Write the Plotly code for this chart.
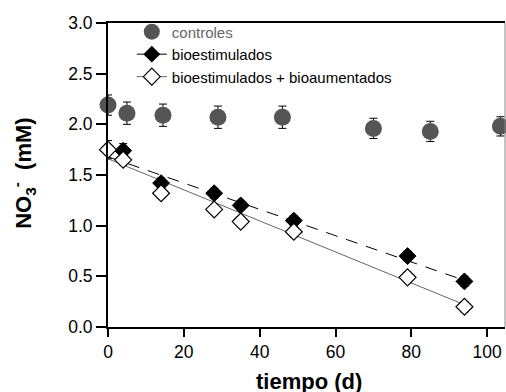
import plotly.graph_objects as go

# ---- data ----
ctrl_x = [0, 5, 14.5, 29, 46, 70, 85, 103.5]
ctrl_y = [2.19, 2.11, 2.09, 2.07, 2.07, 1.96, 1.93, 1.98]
ctrl_err = [0.10, 0.11, 0.11, 0.11, 0.11, 0.10, 0.10, 0.095]

bio_x = [4, 14, 28, 35, 49, 79, 94]
bio_y = [1.74, 1.42, 1.32, 1.20, 1.05, 0.70, 0.45]
bio_err = [0.07, 0.05, 0.05, 0.05, 0.05, 0.05, 0.05]

aug_x = [0, 4, 14, 28, 35, 49, 79, 94]
aug_y = [1.75, 1.65, 1.32, 1.16, 1.04, 0.94, 0.49, 0.20]
aug_err = [0.09, 0.05, 0.05, 0.05, 0.05, 0.05, 0.05, 0.05]

# fitted (regression) lines, end points
bio_fit_x = [0, 94]
bio_fit_y = [1.68, 0.46]
aug_fit_x = [0, 94]
aug_fit_y = [1.66, 0.22]

x_ticks = [0, 20, 40, 60, 80, 100]
y_ticks = [0.0, 0.5, 1.0, 1.5, 2.0, 2.5, 3.0]
y_tick_text = ["0.0", "0.5", "1.0", "1.5", "2.0", "2.5", "3.0"]

names = ['<span style="color:#666666">controles</span>',
         "bioestimulados", "bioestimulados + bioaumentados"]

FONT = "Liberation Sans, Arial, sans-serif"
GREY = "#555555"

fig = go.Figure()

# regression lines (under markers)
fig.add_trace(go.Scatter(x=bio_fit_x, y=bio_fit_y, mode="lines",
                         line=dict(color="black", width=1, dash="12px,9px"),
                         showlegend=False, cliponaxis=False))
fig.add_trace(go.Scatter(x=aug_fit_x, y=aug_fit_y, mode="lines",
                         line=dict(color="#666666", width=1),
                         showlegend=False, cliponaxis=False))

# data points
fig.add_trace(go.Scatter(x=ctrl_x, y=ctrl_y, mode="markers",
                         marker=dict(symbol="circle", size=17, color=GREY),
                         error_y=dict(type="data", array=ctrl_err, color="black",
                                      thickness=1, width=4),
                         showlegend=False, cliponaxis=False))
fig.add_trace(go.Scatter(x=bio_x, y=bio_y, mode="markers",
                         marker=dict(symbol="diamond", size=13, color="black",
                                     line=dict(color="black", width=1)),
                         error_y=dict(type="data", array=bio_err, color="black",
                                      thickness=1, width=4),
                         showlegend=False, cliponaxis=False))
fig.add_trace(go.Scatter(x=aug_x, y=aug_y, mode="markers",
                         marker=dict(symbol="diamond", size=13, color="white",
                                     line=dict(color="black", width=1.2)),
                         error_y=dict(type="data", array=aug_err, color="black",
                                      thickness=1, width=4),
                         showlegend=False, cliponaxis=False))

# legend-only entries
fig.add_trace(go.Scatter(x=[None], y=[None], mode="markers", name=names[0],
                         marker=dict(symbol="circle", size=16, color=GREY)))
fig.add_trace(go.Scatter(x=[None], y=[None], mode="lines+markers", name=names[1],
                         marker=dict(symbol="diamond", size=13, color="black"),
                         line=dict(color="black", width=1, dash="12px,9px")))
fig.add_trace(go.Scatter(x=[None], y=[None], mode="lines+markers", name=names[2],
                         marker=dict(symbol="diamond", size=13, color="white",
                                     line=dict(color="black", width=1.2)),
                         line=dict(color="#666666", width=1)))

fig.update_layout(
    width=506, height=392,
    margin=dict(l=108, r=1, t=23, b=65, autoexpand=False),
    paper_bgcolor="white", plot_bgcolor="white",
    font=dict(family=FONT, color="black"),
    showlegend=True,
    legend=dict(x=0.06, y=1.025, xanchor="left", yanchor="top",
                bgcolor="rgba(0,0,0,0)", font=dict(size=15, family=FONT),
                tracegroupgap=0, itemsizing="trace"),
    xaxis=dict(range=[0, 104.7], tickvals=x_ticks, showgrid=False, zeroline=False,
               showline=True, linecolor="black", linewidth=2, mirror=True,
               ticks="outside", ticklen=8, tickwidth=2, tickcolor="black",
               automargin=False,
               tickfont=dict(size=17.5, family=FONT, color="black")),
    yaxis=dict(range=[0, 3], tickvals=y_ticks, ticktext=y_tick_text,
               showgrid=False, zeroline=False,
               showline=True, linecolor="black", linewidth=2,
               ticks="outside", ticklen=10, tickwidth=2, tickcolor="black",
               automargin=False,
               tickfont=dict(size=17.5, family=FONT, color="black")),
    shapes=[dict(type="line", xref="paper", yref="paper", x0=1, x1=1, y0=0, y1=1,
                 line=dict(color="#888888", width=1))],
    annotations=[
        dict(text="<b>tiempo (d)</b>", xref="paper", yref="paper",
             x=0.506, y=-0.178, xanchor="center", yanchor="middle",
             showarrow=False, font=dict(size=22, family=FONT, color="black")),
        dict(text="<b>NO<sub>3</sub><sup>-</sup>  (mM)</b>", xref="paper", yref="paper",
             x=-0.2116, y=0.507, xanchor="center", yanchor="middle", textangle=-90,
             showarrow=False, font=dict(size=22, family=FONT, color="black")),
    ],
)

fig.write_html("out.html",
               config={"displayModeBar": False},
               post_script="document.body.style.margin='0';document.body.style.overflow='hidden';")
